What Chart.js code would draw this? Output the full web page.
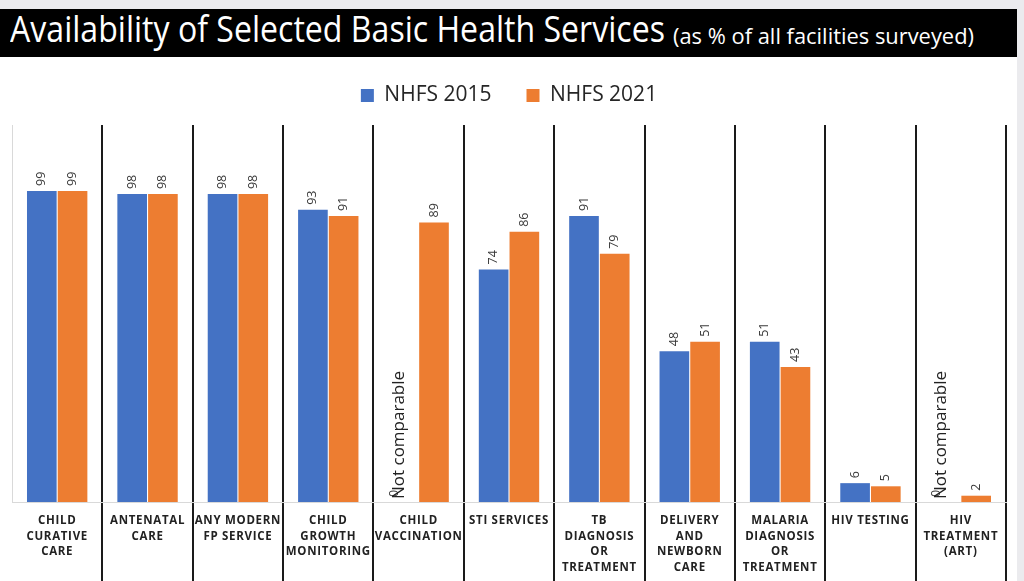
<!DOCTYPE html>
<html>
<head>
<meta charset="utf-8">
<script src="https://cdn.jsdelivr.net/npm/chart.js@4.4.0/dist/chart.umd.min.js"></script>
<style>
html,body{margin:0;padding:0;}
body{width:1024px;height:581px;background:#ebebee;position:relative;overflow:hidden;font-family:'Open Sans',sans-serif;}
#panel{position:absolute;left:0;top:9px;width:1017px;height:572px;background:#fff;}
#titlebar{position:absolute;left:0;top:9px;width:1017px;height:48px;background:#000;overflow:hidden;}
.t{position:absolute;color:#fff;white-space:nowrap;transform-origin:0 0;line-height:1;font-family:'Open Sans',sans-serif;}
#t1{left:10px;top:2px;font-size:36px;}
#t2{left:673px;top:17px;font-size:21px;}
#wrap{position:absolute;left:0;top:50px;width:1017px;height:531px;}
</style>
</head>
<body>
<div id="panel"></div>
<div id="titlebar">
  <span class="t" id="t1">Availability of Selected Basic Health Services</span>
  <span class="t" id="t2">(as % of all facilities surveyed)</span>
</div>
<div id="wrap"><canvas id="c"></canvas></div>
<script>
// ---- data ----
const categories = [
  ['CHILD','CURATIVE','CARE'],
  ['ANTENATAL','CARE'],
  ['ANY MODERN','FP SERVICE'],
  ['CHILD','GROWTH','MONITORING'],
  ['CHILD','VACCINATION'],
  ['STI SERVICES'],
  ['TB','DIAGNOSIS','OR','TREATMENT'],
  ['DELIVERY','AND','NEWBORN','CARE'],
  ['MALARIA','DIAGNOSIS','OR','TREATMENT'],
  ['HIV TESTING'],
  ['HIV','TREATMENT','(ART)']
];
const seriesNames = ['NHFS 2015', 'NHFS 2021'];
const values2015 = [99, 98, 98, 93, 0, 74, 91, 48, 51, 6, 0];
const values2021 = [99, 98, 98, 91, 89, 86, 79, 51, 43, 5, 2];
const notes2015 = ['', '', '', '', 'Not comparable', '', '', '', '', '', 'Not comparable'];

// ---- title fit ----
function fitText(id, target){
  const el = document.getElementById(id);
  const w = el.getBoundingClientRect().width;
  el.style.transform = 'scaleX(' + (target / w) + ')';
}
fitText('t1', 655);
fitText('t2', 301);

// ---- chart ----
const BLUE = '#4472C4', ORANGE = '#ED7D31';
const EDGE = '#d9d9d9', SEP = '#1a1a1a';
const isEdge = c => c.index === 0 || c.index === categories.length;

const labelPlugin = {
  id: 'valueLabels',
  beforeDraw(chart){
    const s = chart.scales.x;
    if (s && !s.__ls) {
      const orig = s.drawLabels;
      s.drawLabels = function(a){
        const c = this.ctx; c.save(); c.letterSpacing = '0.7px'; orig.call(this, a); c.restore();
      };
      s.__ls = true;
    }
  },
  afterDatasetsDraw(chart){
    const ctx = chart.ctx;
    chart.data.datasets.forEach((ds, di) => {
      const meta = chart.getDatasetMeta(di);
      meta.data.forEach((bar, i) => {
        const v = ds.data[i];
        const zero = v === 0;
        ctx.save();
        ctx.translate(bar.x - (zero ? 9 : 0), bar.y - 5);
        ctx.rotate(-Math.PI / 2);
        ctx.font = '12.5px "Open Sans"';
        ctx.fillStyle = '#3a3a3a';
        ctx.textAlign = 'left';
        ctx.textBaseline = 'middle';
        ctx.fillText(String(v), 0, 0);
        ctx.restore();
      });
    });
    const meta0 = chart.getDatasetMeta(0);
    notes2015.forEach((n, i) => {
      if (!n) return;
      const bar = meta0.data[i];
      ctx.save();
      ctx.translate(bar.x - 4, bar.base - 3);
      ctx.rotate(-Math.PI / 2);
      ctx.font = '17px "Open Sans"';
      ctx.fillStyle = '#222';
      ctx.textAlign = 'left';
      ctx.textBaseline = 'middle';
      ctx.fillText(n, 0, 0);
      ctx.restore();
    });
  }
};

new Chart(document.getElementById('c'), {
  type: 'bar',
  data: {
    labels: categories,
    datasets: [
      { label: seriesNames[0], data: values2015, backgroundColor: BLUE, borderWidth: 0,
        categoryPercentage: 0.68, barPercentage: 0.965 },
      { label: seriesNames[1], data: values2021, backgroundColor: ORANGE, borderWidth: 0,
        categoryPercentage: 0.68, barPercentage: 0.965 }
    ]
  },
  options: {
    responsive: true,
    maintainAspectRatio: false,
    animation: false,
    events: [],
    layout: { padding: { left: 12, right: 11, top: 0, bottom: 0 } },
    plugins: {
      tooltip: { enabled: false },
      legend: {
        position: 'top',
        labels: {
          boxWidth: 13, boxHeight: 13, padding: 35,
          color: '#262626',
          font: { family: 'Open Sans', size: 21 }
        }
      }
    },
    scales: {
      x: {
        position: 'bottom',
        grid: {
          offset: true,
          drawOnChartArea: true,
          color: c => isEdge(c) ? EDGE : SEP,
          lineWidth: c => isEdge(c) ? 1 : 2,
          tickColor: c => c.index === 0 ? 'rgba(0,0,0,0)' : (isEdge(c) ? EDGE : SEP),
          tickWidth: c => isEdge(c) ? 1 : 2,
          tickLength: 80
        },
        border: { color: EDGE, width: 1 },
        ticks: {
          autoSkip: false, maxRotation: 0, minRotation: 0,
          padding: -69,
          color: '#222',
          font: { family: 'Open Sans', weight: 'bold', size: 11.5, lineHeight: 1.35 }
        },
        afterFit(s){ s.height = 79; }
      },
      xTop: {
        type: 'category',
        position: 'top',
        grid: { display: false, drawTicks: false },
        border: { display: false },
        ticks: { display: false },
        afterFit(s){ s.height = 9; }
      },
      y: {
        display: false,
        min: 0, max: 120
      }
    }
  },
  plugins: [labelPlugin]
});
</script>
</body>
</html>
